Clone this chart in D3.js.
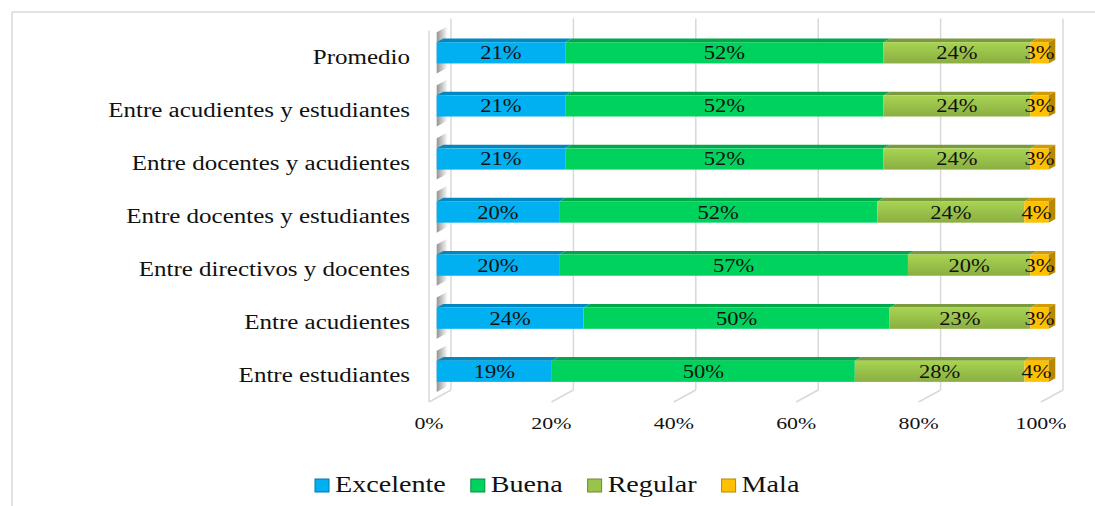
<!DOCTYPE html>
<html>
<head>
<meta charset="utf-8">
<script src="https://cdn.jsdelivr.net/npm/d3@7"></script>
<style>
  body { margin: 0; background: #fff; }
  text { font-family: "Liberation Serif", "Times New Roman", serif; fill: #111; }
</style>
</head>
<body>
<svg id="chart"></svg>
<script>
const categories = ["Entre estudiantes", "Entre acudientes", "Entre directivos y docentes",
  "Entre docentes y estudiantes", "Entre docentes y acudientes", "Entre acudientes y estudiantes", "Promedio"];
const series = ["Excelente", "Buena", "Regular", "Mala"];
const excelente = [19, 24, 20, 20, 21, 21, 21];
const buena = [50, 50, 57, 52, 52, 52, 52];
const regular = [28, 23, 20, 24, 24, 24, 24];
const mala = [4, 3, 3, 4, 3, 3, 3];
const ticks = [0, 0.2, 0.4, 0.6, 0.8, 1];

const width = 1095, height = 506;
const sx = 1.25; // text looks horizontally stretched

const svg = d3.select("#chart").attr("width", width).attr("height", height);

const colors = {
  Excelente: { front: "#00b0f0", top: "#0089c0", cap: "#0078a8" },
  Buena: { front: "#00d25e", top: "#00a84a", cap: "#00903e" },
  Regular: { front: "#98c44c", top: "#7a9a3c", cap: "#6c8a32" },
  Mala: { front: "#ffc000", top: "#d09c00", cap: "#b88800" }
};

// 3D geometry: front plane scale + depth vector
const x = d3.scaleLinear().domain([0, 1]).range([429, 1041]);
const y = d3.scaleBand().domain(categories).range([402, 30.5]).paddingInner(0.6).paddingOuter(0.3);
const depth = [22, -12];
const d0 = 0.35, d1 = 0.65;

const rows = categories.map((c, i) => {
  const vals = [excelente[i], buena[i], regular[i], mala[i]];
  const tot = d3.sum(vals);
  let acc = 0;
  return { cat: c, segs: vals.map((v, j) => { const s = { key: series[j], v, a: acc / tot, b: (acc + v) / tot }; acc += v; return s; }) };
});

// border
svg.append("line").attr("x1", 12).attr("y1", 12).attr("x2", width).attr("y2", 12).attr("stroke", "#d9d9d9").attr("stroke-width", 1.5);
svg.append("line").attr("x1", 12).attr("y1", 12).attr("x2", 12).attr("y2", height).attr("stroke", "#d9d9d9").attr("stroke-width", 1.5);

const defs = svg.append("defs");
const wg = defs.append("linearGradient").attr("id", "wallg").attr("x1", 0).attr("x2", 1).attr("y1", 0).attr("y2", 0);
wg.append("stop").attr("offset", "0%").attr("stop-color", "#808080");
wg.append("stop").attr("offset", "100%").attr("stop-color", "#ffffff");
const rg = defs.append("linearGradient").attr("id", "regg").attr("x1", 0).attr("x2", 0).attr("y1", 0).attr("y2", 1);
rg.append("stop").attr("offset", "0%").attr("stop-color", "#a8d452");
rg.append("stop").attr("offset", "100%").attr("stop-color", "#8aae42");

const yTop = y.range()[1], yBot = y.range()[0];

// back wall gridlines
svg.append("g").selectAll("line").data(ticks).join("line")
  .attr("x1", d => x(d) + depth[0]).attr("x2", d => x(d) + depth[0])
  .attr("y1", yTop + depth[1]).attr("y2", yBot + depth[1])
  .attr("stroke", "#d9d9d9").attr("stroke-width", 1.5);
// floor lines
svg.append("g").selectAll("line").data(ticks).join("line")
  .attr("x1", d => x(d) + depth[0]).attr("x2", d => x(d))
  .attr("y1", yBot + depth[1]).attr("y2", yBot)
  .attr("stroke", "#d9d9d9").attr("stroke-width", 1.5);
// left wall front edge
svg.append("line").attr("x1", x(0)).attr("x2", x(0)).attr("y1", yTop).attr("y2", yBot)
  .attr("stroke", "#d9d9d9").attr("stroke-width", 1.5);

// wall shading near each bar
const bw = y.bandwidth();
svg.append("g").selectAll("path").data(rows).join("path")
  .attr("d", r => {
    const t = y(r.cat), b = t + bw;
    const xl = x(0) + depth[0] * d0, xr = x(0) + depth[0] * 0.85;
    const yl = depth[1] * d0, yr = depth[1] * 0.85;
    return `M${xl},${t + yl - 10}L${xr},${t + yr - 10}L${xr},${b + yr + 10}L${xl},${b + yl + 10}Z`;
  })
  .attr("fill", "url(#wallg)").attr("opacity", 0.85);

// bars
const bars = svg.append("g");
rows.forEach(r => {
  const t = y(r.cat), b = t + bw;
  const ox = depth[0] * d0, oy = depth[1] * d0;
  const ddx = depth[0] * (d1 - d0), ddy = depth[1] * (d1 - d0);
  r.segs.forEach((s, j) => {
    const xa = x(s.a) + ox, xb = x(s.b) + ox;
    const ft = t + oy, fb = b + oy;
    bars.append("path")
      .attr("d", `M${xa},${ft}L${xa + ddx},${ft + ddy}L${xb + ddx},${ft + ddy}L${xb},${ft}Z`)
      .attr("fill", colors[s.key].top);
    bars.append("rect")
      .attr("x", xa).attr("y", ft).attr("width", xb - xa).attr("height", fb - ft)
      .attr("fill", s.key === "Regular" ? "url(#regg)" : colors[s.key].front);
    if (j === r.segs.length - 1) {
      bars.append("path")
        .attr("d", `M${xb},${ft}L${xb + ddx},${ft + ddy}L${xb + ddx},${fb + ddy}L${xb},${fb}Z`)
        .attr("fill", colors[s.key].cap);
    }
    bars.append("text")
      .attr("transform", `translate(${(xa + xb) / 2},${(ft + fb) / 2 + 6.5}) scale(${sx},1)`)
      .attr("text-anchor", "middle").attr("font-size", 18)
      .text(s.v + "%");
  });
});

// category labels
svg.append("g").selectAll("text").data(categories).join("text")
  .attr("transform", d => `translate(410,${y(d) + bw / 2 + 7}) scale(${sx},1)`)
  .attr("text-anchor", "end").attr("font-size", 20)
  .text(d => d);

// x tick labels
svg.append("g").selectAll("text").data(ticks).join("text")
  .attr("transform", d => `translate(${x(d)},${yBot + 27}) scale(${sx},1)`)
  .attr("text-anchor", "middle").attr("font-size", 17.5)
  .text(d => d3.format(".0%")(d));

// legend
const legend = svg.append("g");
let lx = 315;
series.forEach(k => {
  legend.append("rect").attr("x", lx).attr("y", 479).attr("width", 14).attr("height", 13)
    .attr("fill", colors[k].front).attr("stroke", colors[k].cap).attr("stroke-width", 1);
  const t = legend.append("text")
    .attr("transform", `translate(${lx + 20},492) scale(${sx},1)`)
    .attr("font-size", 22.5).text(k);
  lx += 20 + t.node().getComputedTextLength() * sx + 25;
});
</script>
</body>
</html>
